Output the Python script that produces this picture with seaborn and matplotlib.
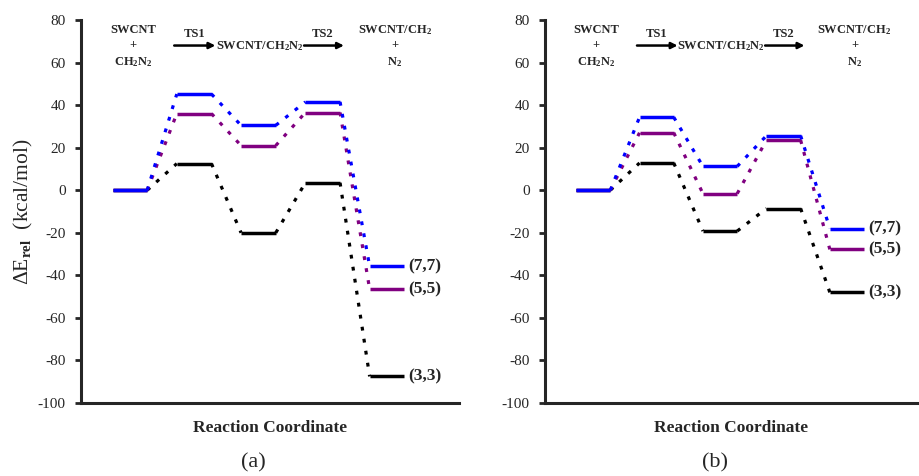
import numpy as np
import pandas as pd
import matplotlib
matplotlib.use("Agg")
import matplotlib.pyplot as plt
import seaborn as sns

sns.set_style("ticks")
plt.rcParams["font.family"] = ["Liberation Serif", "DejaVu Serif"]
plt.rcParams["mathtext.fontset"] = "custom"
plt.rcParams["mathtext.rm"] = "Liberation Serif"
plt.rcParams["mathtext.bf"] = "Liberation Serif:bold"
plt.rcParams["mathtext.it"] = "Liberation Serif:italic"
plt.rcParams["axes.unicode_minus"] = False

# ---------------- data ----------------
tubes = ["(3,3)", "(5,5)", "(7,7)"]
stages = ["SWCNT + CH2N2", "TS1", "SWCNT/CH2N2", "TS2", "SWCNT/CH2 + N2"]

# panel (a)
a_33 = [0, 12.5, -20.0, 3.5, -87.5]
a_55 = [0, 36.0, 21.0, 36.5, -46.5]
a_77 = [0, 45.2, 30.5, 41.5, -35.8]
# panel (b)
b_33 = [0, 12.8, -19.2, -8.6, -48.0]
b_55 = [0, 27.0, -1.6, 23.5, -27.8]
b_77 = [0, 34.3, 11.2, 25.6, -18.0]

panels = {"(a)": [a_33, a_55, a_77], "(b)": [b_33, b_55, b_77]}
yticks = [-100, -80, -60, -40, -20, 0, 20, 40, 60, 80]
palette = {"(3,3)": "#000000", "(5,5)": "#800080", "(7,7)": "#0000FF"}

W = 0.27  # half width of a level bar


def build_frames(series):
    lev, con = [], []
    for tube, vals in zip(tubes, series):
        for i, v in enumerate(vals):
            lev.append(dict(tube=tube, seg=f"{tube}-{i}", x=i - W, E=v))
            lev.append(dict(tube=tube, seg=f"{tube}-{i}", x=i + W, E=v))
            if i < len(vals) - 1:
                con.append(dict(tube=tube, seg=f"{tube}-c{i}", x=i + W, E=v))
                con.append(dict(tube=tube, seg=f"{tube}-c{i}", x=i + 1 - W, E=vals[i + 1]))
    return pd.DataFrame(lev), pd.DataFrame(con)


fig = plt.figure(figsize=(9.2, 4.76), dpi=100)
positions = {"(a)": [81 / 920, 73 / 476, 378 / 920, 383 / 476],
             "(b)": [545 / 920, 73 / 476, 373 / 920, 383 / 476]}

for name, series in panels.items():
    ax = fig.add_axes(positions[name])
    lev, con = build_frames(series)
    order = ["(3,3)", "(5,5)", "(7,7)"]
    for tube in order:
        sns.lineplot(data=con[con.tube == tube], x="x", y="E", hue="tube", units="seg",
                     estimator=None, sort=False, palette=palette, legend=False,
                     lw=2.3, linestyle=(0, (1.2, 2.6)), ax=ax)
        sns.lineplot(data=lev[lev.tube == tube], x="x", y="E", hue="tube", units="seg",
                     estimator=None, sort=False, palette=palette, legend=False,
                     lw=2.5, solid_capstyle="butt", ax=ax)

    # product labels
    for tube, vals in zip(tubes, series):
        ax.text(4 + W + 0.06, vals[-1], tube, ha="left", va="center",
                fontsize=12.5, fontweight="bold")

    ax.set_xlim(-0.76, 5.12)
    ax.set_ylim(-100, 80)
    ax.set_yticks(yticks)
    ax.set_xticks([])
    ax.tick_params(axis="y", direction="out", length=4, width=2, labelsize=11, pad=7)
    for s in ["top", "right"]:
        ax.spines[s].set_visible(False)
    for s in ["left", "bottom"]:
        ax.spines[s].set_linewidth(2.2)
    ax.set_xlabel("Reaction Coordinate", fontsize=12.5, fontweight="bold", labelpad=12)
    if name == "(a)":
        ax.set_ylabel(r"$\Delta$E$_{\mathbf{rel}}$  (kcal/mol)", fontsize=15.5, labelpad=2)
    else:
        ax.set_ylabel("")
    ax.text(0.455, -0.155, name, transform=ax.transAxes, ha="center", va="center",
            fontsize=16)

    # header scheme
    hk = dict(ha="center", va="center", fontsize=9, fontweight="bold")
    ax.text(0.05, 75.3, "SWCNT", **hk)
    ax.text(0.05, 68.3, "+", **hk)
    ax.text(0.05, 60.0, r"CH$_\mathbf{2}$N$_\mathbf{2}$", **hk)
    ax.text(1.0, 73.3, "TS1", **hk)
    ax.annotate("", xy=(1.33, 68), xytext=(0.69, 68),
                arrowprops=dict(arrowstyle="-|>", lw=1.8, color="black",
                                mutation_scale=9, shrinkA=0, shrinkB=0))
    ax.text(2.02, 67.5, r"SWCNT/CH$_\mathbf{2}$N$_\mathbf{2}$", **hk)
    ax.text(3.0, 73.3, "TS2", **hk)
    ax.annotate("", xy=(3.33, 68), xytext=(2.71, 68),
                arrowprops=dict(arrowstyle="-|>", lw=1.8, color="black",
                                mutation_scale=9, shrinkA=0, shrinkB=0))
    ax.text(4.12, 75.3, r"SWCNT/CH$_\mathbf{2}$", **hk)
    ax.text(4.12, 68.3, "+", **hk)
    ax.text(4.12, 60.0, r"N$_\mathbf{2}$", **hk)

fig.savefig("out.png", dpi=100)
